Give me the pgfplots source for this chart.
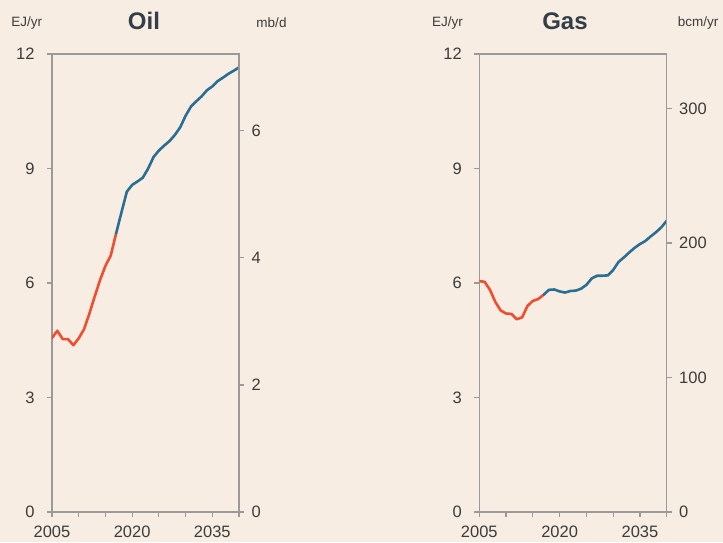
\documentclass[border=0pt]{standalone}
\usepackage{pgfplots}
\pgfplotsset{compat=1.18}
\usepackage{fontspec}
\setmainfont{Liberation Sans}
\definecolor{bg}{HTML}{F7EDE2}
\definecolor{histred}{HTML}{F04E2F}
\definecolor{projblue}{HTML}{2A6E94}
\definecolor{axgray}{HTML}{9A9A9A}
\definecolor{txt}{HTML}{3C3C3C}
\definecolor{ttl}{HTML}{333F48}
\pgfplotsset{
  panel/.style={
    scale only axis, width=187pt, height=458pt, anchor=south west,
    xmin=2005, xmax=2040, ymin=0, ymax=12,
    axis line style={axgray, line width=1.2pt},
    xtick={2005,2010,...,2040}, xticklabels={2005,,,2020,,,2035,},
    ytick={0,3,6,9,12},
    tick style={axgray, line width=1.2pt},
    major tick length=5pt,
    tick align=outside,
    xtick pos=bottom, ytick pos=left,
    tick label style={font=\fontsize{16.5}{18}\selectfont, text=txt},
    /pgf/number format/assume math mode=true,
    yticklabel style={xshift=-9pt},
    xticklabel style={yshift=-5pt},
  },
  sec/.style={
    scale only axis, width=187pt, height=458pt, anchor=south west,
    xmin=2005, xmax=2040, ymin=0,
    axis x line=none, axis y line*=right,
    axis line style={axgray, line width=1.2pt},
    tick style={axgray, line width=1.2pt},
    major tick length=5pt,
    tick align=outside, ytick pos=right,
    tick label style={font=\fontsize{16.5}{18}\selectfont, text=txt},
    /pgf/number format/assume math mode=true,
    yticklabel style={xshift=4pt},
  },
  hist/.style={histred, line width=2.6pt, line join=round, line cap=round},
  proj/.style={projblue, line width=2.6pt, line join=round, line cap=round},
}
\begin{document}
\begin{tikzpicture}
\fill[bg] (0,0) rectangle (723pt,542pt);
% ---------------- Oil ----------------
\begin{axis}[panel, at={(52pt,30pt)}]
\addplot[hist] coordinates {
(2005,4.56) (2006,4.75) (2007,4.53) (2008,4.53) (2009,4.37) (2010,4.55)
(2011,4.79) (2012,5.20) (2013,5.65) (2014,6.08) (2015,6.45) (2016,6.72) (2017,7.30)};
\addplot[proj] coordinates {
(2017,7.30) (2018,7.85) (2019,8.39) (2020,8.57) (2021,8.66) (2022,8.76)
(2023,9.00) (2024,9.30) (2025,9.47) (2026,9.60) (2027,9.72) (2028,9.88)
(2029,10.08) (2030,10.38) (2031,10.62) (2032,10.76) (2033,10.89) (2034,11.05)
(2035,11.15) (2036,11.29) (2037,11.38) (2038,11.48) (2039,11.56) (2040,11.65)};
\end{axis}
\begin{axis}[sec, at={(52pt,30pt)}, ymax=7.207, ytick={0,2,4,6}]
\end{axis}
% ---------------- Gas ----------------
\begin{axis}[panel, at={(479.3pt,30pt)}, width=187.4pt]
\addplot[hist] coordinates {
(2005,6.05) (2006,6.03) (2007,5.82) (2008,5.50) (2009,5.28) (2010,5.20)
(2011,5.19) (2012,5.05) (2013,5.10) (2014,5.40) (2015,5.53) (2016,5.58) (2017,5.69)};
\addplot[proj] coordinates {
(2017,5.69) (2018,5.82) (2019,5.83) (2020,5.78) (2021,5.75) (2022,5.79)
(2023,5.80) (2024,5.85) (2025,5.95) (2026,6.12) (2027,6.19) (2028,6.19)
(2029,6.20) (2030,6.34) (2031,6.55) (2032,6.67) (2033,6.80) (2034,6.92)
(2035,7.02) (2036,7.10) (2037,7.22) (2038,7.33) (2039,7.46) (2040,7.63)};
\end{axis}
\begin{axis}[sec, at={(479.3pt,30pt)}, width=187.4pt, ymax=340.6, ytick={0,100,200,300}]
\end{axis}
% ---------------- headers ----------------
\node[text=txt, font=\fontsize{13.5}{15}\selectfont] at (26.7pt,519pt) {EJ/yr};
\node[text=ttl, font=\fontsize{24}{26}\selectfont\bfseries] at (144pt,521pt) {Oil};
\node[text=txt, font=\fontsize{13.5}{15}\selectfont] at (271.5pt,519pt) {mb/d};
\node[text=txt, font=\fontsize{13.5}{15}\selectfont] at (447.5pt,519pt) {EJ/yr};
\node[text=ttl, font=\fontsize{24}{26}\selectfont\bfseries] at (565pt,521pt) {Gas};
\node[text=txt, font=\fontsize{13.5}{15}\selectfont] at (698pt,519pt) {bcm/yr};
\pgfresetboundingbox
\path[use as bounding box] (0,0) rectangle (723pt,542pt);
\end{tikzpicture}
\end{document}
